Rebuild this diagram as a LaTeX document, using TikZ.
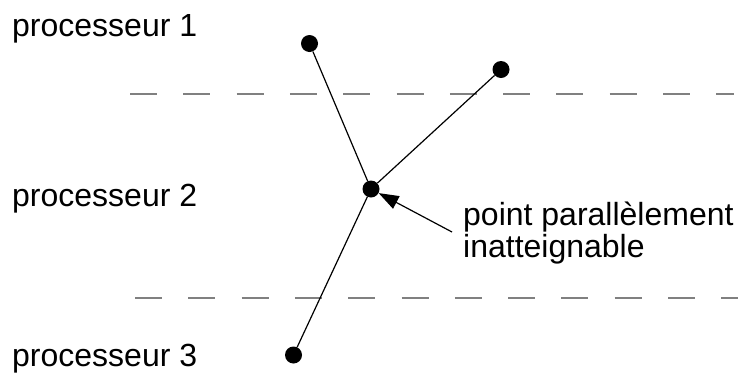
\documentclass[tikz,border=0pt]{standalone}
\usepackage{fontspec}
\setmainfont{Liberation Sans}
\usetikzlibrary{arrows.meta}
\begin{document}
\begin{tikzpicture}[x=1pt,y=-1pt,
  dot/.style={circle,fill=black,inner sep=0pt,minimum size=17pt},
  conn/.style={draw=black,line width=1.2pt},
  sep/.style={draw=black!50,line width=1.5pt,dash pattern=on 27pt off 26.3pt},
  lab/.style={inner sep=0pt,anchor=base west,font=\fontsize{32}{32}\selectfont},
  arr/.style={draw=black,line width=1.2pt,-{Triangle[length=20pt,width=14pt]}}]
\useasboundingbox (0,0) rectangle (744,381);
% separators
\coordinate (s1a) at (130,94); \coordinate (s1b) at (734,94);
\coordinate (s2a) at (135,298); \coordinate (s2b) at (738,298);
\draw[sep] (s1a) -- (s1b);
\draw[sep] (s2a) -- (s2b);
% labels
\node[lab] (p1) at (12,36) {processeur 1};
\node[lab] (p2) at (12,206) {processeur 2};
\node[lab] (p3) at (12,366) {processeur 3};
\node[lab] (l1) at (463,225) {point parallèlement};
\node[lab] (l2) at (463,257) {inatteignable};
% points
\node[dot] (A) at (309.5,43.5) {};
\node[dot] (B) at (501,69.5) {};
\node[dot] (C) at (371,189) {};
\node[dot] (D) at (293.5,355) {};
\draw[conn] (A) -- (C);
\draw[conn] (B) -- (C);
\draw[conn] (D) -- (C);
\coordinate (tail) at (452,232);
\draw[arr] (tail) -- (C);
\end{tikzpicture}
\end{document}
